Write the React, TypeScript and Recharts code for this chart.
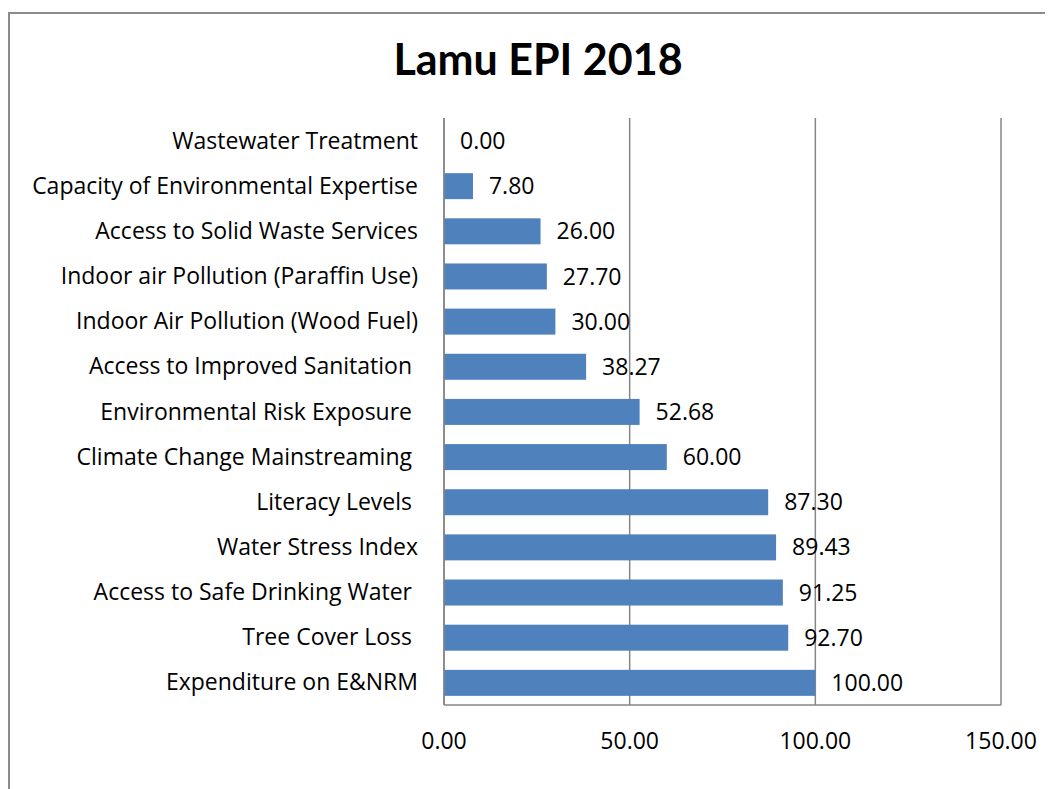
import React from 'react'
import { BarChart, Bar, XAxis, YAxis, CartesianGrid } from 'recharts'

const categories = [
  'Wastewater Treatment',
  'Capacity of Environmental Expertise',
  'Access to Solid Waste Services',
  'Indoor air Pollution (Paraffin Use)',
  'Indoor Air Pollution (Wood Fuel)',
  'Access to Improved Sanitation ',
  'Environmental Risk Exposure ',
  'Climate Change Mainstreaming ',
  'Literacy Levels ',
  'Water Stress Index',
  'Access to Safe Drinking Water ',
  'Tree Cover Loss ',
  'Expenditure on E&NRM',
]

const scores = [0, 7.8, 26, 27.7, 30, 38.27, 52.68, 60, 87.3, 89.43, 91.25, 92.7, 100]

const xTicks = [0, 50, 100, 150]

const FONT = '"Open Sans", Lato, sans-serif'
const TITLE_FONT = 'Lato, "Open Sans", sans-serif'
const GRID = '#868686'
const BAR = '#4f81bd'
const FS = 23

const data = categories.map((name, i) => ({ name, score: scores[i] }))

function CategoryTick(props: any) {
  const { x, y, payload } = props
  return (
    <text
      x={x}
      y={y}
      dy="0.35em"
      textAnchor="end"
      fontSize={FS}
      fontFamily={FONT}
      fill="#000"
      style={{ whiteSpace: 'pre' }}
    >
      {payload.value}
    </text>
  )
}

// bar + its value label; LabelList drops the label of the zero bar
function BarWithLabel(props: any) {
  const { x, y, width, height, payload } = props
  const w = Math.max(0, Number(width) || 0)
  return (
    <g>
      {w > 0 && <rect x={x} y={y} width={w} height={height} fill={BAR} />}
      <text
        x={Number(x) + w + 16}
        y={Number(y) + Number(height) / 2}
        dy="0.35em"
        textAnchor="start"
        fontSize={FS}
        fontFamily={FONT}
        fill="#000"
      >
        {Number(payload.score).toFixed(2)}
      </text>
    </g>
  )
}

export default function App() {
  return (
    <div style={{ position: 'relative', width: 1045, height: 781, fontFamily: FONT }}>
      <div
        style={{
          position: 'absolute',
          left: 0,
          top: 4,
          width: 1060,
          height: 800,
          borderLeft: '2px solid #8c8c8c',
          borderTop: '2px solid #8c8c8c',
          boxSizing: 'border-box',
        }}
      />
      <div
        style={{
          position: 'absolute',
          left: 530,
          top: 25,
          transform: 'translateX(-50%)',
          whiteSpace: 'nowrap',
          fontFamily: TITLE_FONT,
          fontSize: 43,
          fontWeight: 700,
          lineHeight: '52px',
        }}
      >
        Lamu EPI 2018
      </div>
      <div style={{ position: 'absolute', left: 0, top: 0 }}>
        <BarChart
          width={1045}
          height={781}
          data={data}
          layout="vertical"
          margin={{ top: 110, right: 52, bottom: 34, left: 0 }}
        >
          <CartesianGrid horizontal={false} stroke={GRID} strokeWidth={1.5} />
          <XAxis
            type="number"
            domain={[0, 150]}
            ticks={xTicks}
            tickFormatter={(v: number) => v.toFixed(2)}
            axisLine={{ stroke: GRID, strokeWidth: 1.5 }}
            tickLine={false}
            tickSize={0}
            tickMargin={28}
            height={50}
            tick={{ fontSize: FS, fill: '#000', fontFamily: FONT }}
          />
          <YAxis
            type="category"
            dataKey="name"
            width={436}
            axisLine={{ stroke: GRID, strokeWidth: 1.5 }}
            tickLine={false}
            tickSize={0}
            tickMargin={26}
            interval={0}
            tick={<CategoryTick />}
          />
          <Bar
            dataKey="score"
            fill={BAR}
            barSize={26}
            minPointSize={0}
            shape={<BarWithLabel />}
            isAnimationActive={false}
          />
        </BarChart>
      </div>
    </div>
  )
}
